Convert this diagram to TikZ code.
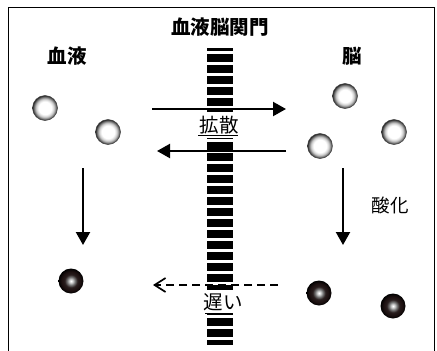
\documentclass[tikz,border=0pt]{standalone}
\usepackage{fontspec}
\newfontfamily\jp{Noto Sans CJK JP}
\usetikzlibrary{arrows.meta}
\definecolor{inkbrown}{RGB}{28,16,16}
% pale (unreacted) molecule and dark (oxidised) molecule
\pgfdeclareradialshading{paleball}{\pgfpoint{0bp}{0bp}}{color(0bp)=(white); color(13bp)=(white); color(18bp)=(black!20); color(22bp)=(black!55); color(25bp)=(black!85); color(50bp)=(black!85)}
\pgfdeclareradialshading{darkball}{\pgfpoint{0bp}{0bp}}{color(0bp)=(white); color(3bp)=(black!15); color(8bp)=(black!55); color(13bp)=(inkbrown!95); color(19bp)=(inkbrown); color(25bp)=(black); color(50bp)=(black)}
\tikzset{
  pale/.style={circle, minimum size=25pt, inner sep=0pt, shading=paleball, draw=black!75, line width=0.5pt},
  dark/.style={circle, minimum size=25pt, inner sep=0pt, shading=darkball},
  heading/.style={font=\jp\bfseries\fontsize{19.5}{19.5}\selectfont, inner sep=0pt},
  label/.style={font=\jp\fontsize{19.5}{19.5}\selectfont, inner sep=0pt},
  gaplabel/.style={label, fill=white, minimum width=30pt},
  flow/.style={line width=2.2pt, -{Triangle[length=13pt,width=14pt]}},
  slowflow/.style={line width=2.2pt, dash pattern=on 8pt off 5pt, -{Straight Barb[length=11pt,width=14pt,line width=1.7pt]}},
  frame/.style={line width=1.6pt},
  rule/.style={line width=0.9pt}
}
\begin{document}
\begin{tikzpicture}[x=1pt,y=-1pt]
\useasboundingbox (0,0) rectangle (437,351);
% open frame: top, left and right sides
\draw[frame] (8.5,360) -- (8.5,7.5) -- (434.5,7.5) -- (434.5,360);

% barrier: black column broken by thin white gaps
\fill (207,48) rectangle (233,345);
\foreach \k in {0,...,26}{
  \pgfmathsetmacro\gy{51+11*\k}
  \fill[white] (206,\gy) rectangle (234,\gy+3);
}

% headings
\node[heading] (title) at (220,27) {血液脳関門};
\node[heading] (blood) at (67,56) {血液};
\node[heading] (brain) at (352,56) {脳};

% labels on the barrier
\node[gaplabel, minimum height=26pt] (diff) at (219,125) {拡散};
\draw[rule] (198,135.5) -- (238,135.5);
\node[gaplabel, minimum height=24pt] (slow) at (223,302) {遅い};
\draw[rule] (205,313.5) -- (233,313.5);
\node[label, font=\jp\fontsize{18.5}{18.5}\selectfont] (ox) at (390,205) {酸化};

% molecules
\node[pale] (wa) at (45,108) {};
\node[pale] (wb) at (108,132) {};
\node[pale] (wc) at (345,96) {};
\node[pale] (wd) at (394,132) {};
\node[pale] (we) at (320,146) {};
\node[dark] (da) at (71,281) {};
\node[dark] (db) at (319,293) {};
\node[dark] (dc) at (393,306) {};

% arrow end points
\coordinate (inL) at (152,109);
\coordinate (inR) at (286,109);
\coordinate (outR) at (286,151);
\coordinate (outL) at (157,151);
\coordinate (ldT) at (83,168);
\coordinate (ldB) at (83,245);
\coordinate (rdT) at (343,168);
\coordinate (rdB) at (343,245);
\coordinate (slR) at (278,285);
\coordinate (slL) at (153,285);

\draw[flow] (inL) -- (inR);
\draw[flow] (outR) -- (outL);
\draw[flow] (ldT) -- (ldB);
\draw[flow] (rdT) -- (rdB);
\draw[slowflow] (slR) -- (slL);
\end{tikzpicture}
\end{document}
